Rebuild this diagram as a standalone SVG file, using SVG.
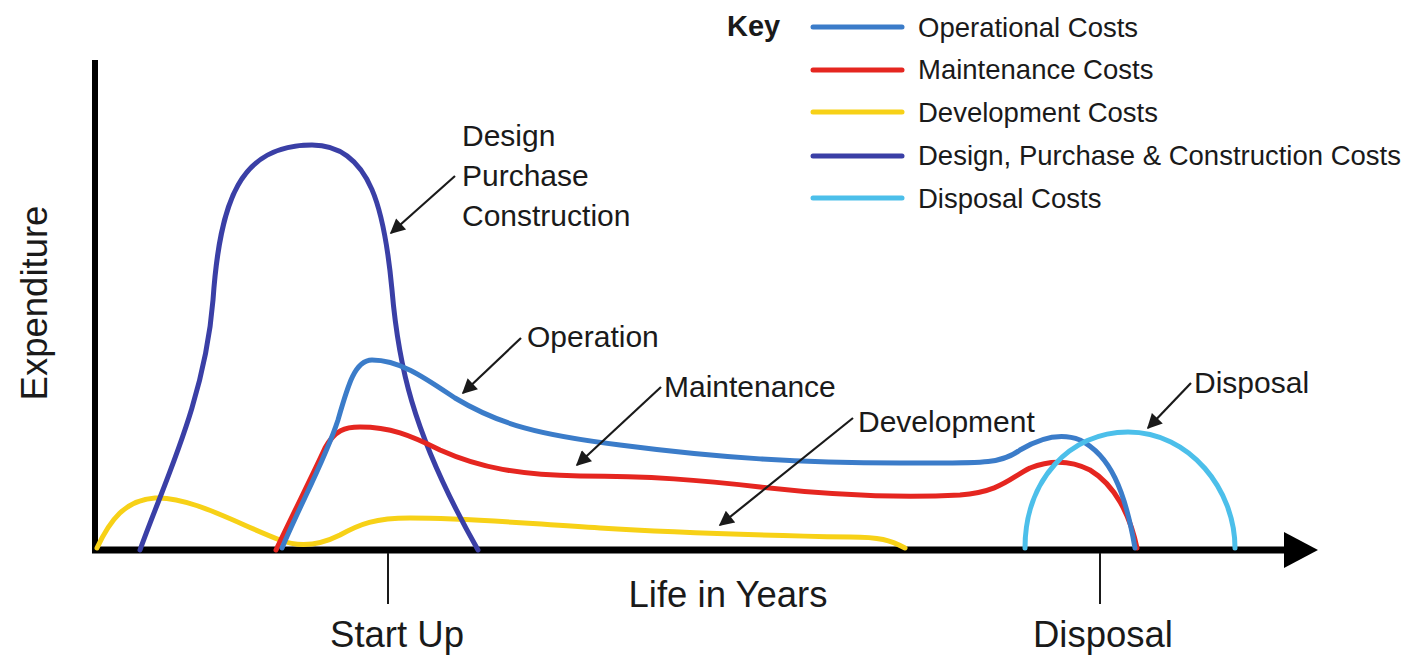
<svg xmlns="http://www.w3.org/2000/svg" width="1421" height="655" viewBox="0 0 1421 655">
<defs>
<style>
.t{font-family:"Liberation Sans",Arial,sans-serif;fill:#1a1a1a}
.lbl{font-size:30px}
.key{font-size:27.5px}
.ax{font-size:36.5px}
.c{fill:none;stroke-width:5;stroke-linecap:round;stroke-linejoin:round}
.dpc{stroke:#3a3fa6}
.op{stroke:#3b7cc9}
.mt{stroke:#e52620}
.dev{stroke:#f7d117}
.dis{stroke:#4cbfea}
.ptr{fill:none;stroke:#1a1a1a;stroke-width:2.2}
</style>
<marker id="ah" viewBox="0 0 10 10" refX="9" refY="5" markerWidth="19" markerHeight="15" markerUnits="userSpaceOnUse" orient="auto">
<path d="M0,0 L10,5 L0,10 z" fill="#1a1a1a"/>
</marker>
</defs>
<rect width="1421" height="655" fill="#ffffff"/>

<g id="axes">
<line x1="95" y1="60" x2="95" y2="552" stroke="#000" stroke-width="6"/>
<line x1="92" y1="550" x2="1290" y2="550" stroke="#000" stroke-width="7"/>
<path d="M1284,532 L1318,550 L1284,568 z" fill="#000"/>
<line x1="388" y1="553" x2="388" y2="604" stroke="#1a1a1a" stroke-width="2"/>
<line x1="1100" y1="553" x2="1100" y2="604" stroke="#1a1a1a" stroke-width="2"/>
<text class="t ax" x="728" y="607" text-anchor="middle">Life in Years</text>
<text class="t ax" x="397" y="647" text-anchor="middle">Start Up</text>
<text class="t ax" x="1103" y="647" text-anchor="middle">Disposal</text>
<text class="t ax" transform="translate(47,303) rotate(-90)" text-anchor="middle">Expenditure</text>
</g>

<g id="key">
<text class="t" x="727" y="36" font-size="29" font-weight="bold">Key</text>
<line class="c op" x1="813" y1="27" x2="902" y2="27"/>
<line class="c mt" x1="813" y1="70" x2="902" y2="70"/>
<line class="c dev" x1="813" y1="112" x2="902" y2="112"/>
<line class="c dpc" x1="813" y1="156" x2="902" y2="156"/>
<line class="c dis" x1="813" y1="198" x2="902" y2="198"/>
<text class="t key" x="918" y="37">Operational Costs</text>
<text class="t key" x="918" y="79">Maintenance Costs</text>
<text class="t key" x="918" y="122">Development Costs</text>
<text class="t key" x="918" y="165">Design, Purchase &amp; Construction Costs</text>
<text class="t key" x="918" y="208">Disposal Costs</text>
</g>

<g id="curve-development">
<path class="c dev" d="M97,548 C110,520 125,500 155,498 C190,496 240,525 280,540 C300,548 320,545 340,535 C360,524 375,518 410,518 C470,518 520,523 600,528 C680,533 750,535 850,537 C880,537 890,540 905,548"/>
</g>
<g id="curve-dpc">
<path class="c dpc" d="M140,550 C165,480 205,400 213,300 C220,200 240,145 312,145 C372,145 385,215 392,290 C398,360 410,430 478,550"/>
</g>
<g id="curve-maintenance">
<path class="c mt" d="M276,550 C295,510 315,470 325,448 C335,430 345,427 360,427 C390,427 410,435 440,450 C480,468 520,475 580,476 C650,476 700,480 760,487 C830,495 900,498 960,495 C1000,492 1010,478 1030,468 C1050,460 1070,460 1090,470 C1115,485 1130,515 1137,548"/>
</g>
<g id="curve-operation">
<path class="c op" d="M282,548 C300,505 325,460 338,420 C348,385 355,360 372,360 C400,360 425,378 455,398 C500,425 540,435 620,445 C720,458 800,463 900,463 C980,463 1000,465 1020,450 C1040,438 1060,432 1080,440 C1110,455 1125,490 1135,548"/>
</g>
<g id="curve-disposal">
<path class="c dis" d="M1025,548 C1025,480 1070,432 1128,432 C1190,432 1235,490 1235,548"/>
</g>

<g id="connectors">
<line class="ptr" x1="455" y1="176" x2="391" y2="233" marker-end="url(#ah)"/>
<line class="ptr" x1="521" y1="338" x2="463" y2="393" marker-end="url(#ah)"/>
<line class="ptr" x1="661" y1="387" x2="577" y2="465" marker-end="url(#ah)"/>
<line class="ptr" x1="853" y1="418" x2="720" y2="525" marker-end="url(#ah)"/>
<line class="ptr" x1="1191" y1="383" x2="1148" y2="428" marker-end="url(#ah)"/>
</g>

<g id="labels">
<text class="t lbl" x="462" y="146">Design</text>
<text class="t lbl" x="462" y="186">Purchase</text>
<text class="t lbl" x="462" y="226">Construction</text>
<text class="t lbl" x="527" y="347">Operation</text>
<text class="t lbl" x="664" y="397">Maintenance</text>
<text class="t lbl" x="858" y="432">Development</text>
<text class="t lbl" x="1194" y="393">Disposal</text>
</g>
</svg>
